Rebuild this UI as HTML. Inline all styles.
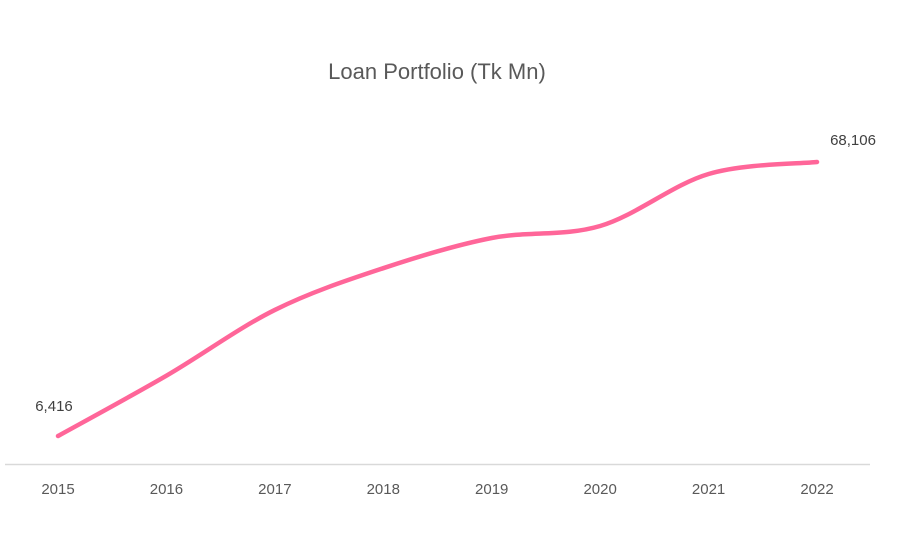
<!DOCTYPE html>
<html><head><meta charset="utf-8"><style>
html,body{margin:0;padding:0;background:#fff;}
svg{display:block;font-family:"Liberation Sans","DejaVu Sans",sans-serif;}
</style></head><body>
<svg id="chart" width="913" height="539">
  <text x="437" y="79" text-anchor="middle" font-size="22" fill="#595959">Loan Portfolio (Tk Mn)</text>
  <line x1="5" y1="464.5" x2="870" y2="464.5" stroke="#d9d9d9" stroke-width="1.5"/>
  <g id="xlabels"></g>
  <path id="line" fill="none" stroke="#ff6699" stroke-width="4.5" stroke-linecap="round"/>
  <g id="dlabels"></g>
</svg>
<script>
const categories = ["2015","2016","2017","2018","2019","2020","2021","2022"];
const values = [6416, 20000, 34800, 44200, 51000, 53700, 65400, 68106];
const printedLabels = ["6,416","","","","","","","68,106"];

const x0 = 58, step = 108.43;
function xPos(i){ return x0 + i*step; }
const yZero = 464.5, yScale = 274/(68106-6416);
function yPos(v){ return yZero - v*yScale; }

const NS = "http://www.w3.org/2000/svg";
const xl = document.getElementById("xlabels");
categories.forEach((c,i)=>{
  const t = document.createElementNS(NS,"text");
  t.setAttribute("x", xPos(i)); t.setAttribute("y", 494);
  t.setAttribute("text-anchor","middle"); t.setAttribute("font-size","15"); t.setAttribute("fill","#595959");
  
  
  t.textContent = c; xl.appendChild(t);
});

const pts = values.map((v,i)=>[xPos(i), yPos(v)]);
let d = "M"+pts[0][0]+","+pts[0][1];
for(let i=0;i<pts.length-1;i++){
  const p0 = pts[Math.max(0,i-1)], p1 = pts[i], p2 = pts[i+1], p3 = pts[Math.min(pts.length-1,i+2)];
  const c1 = [p1[0]+(p2[0]-p0[0])/6, p1[1]+(p2[1]-p0[1])/6];
  const c2 = [p2[0]-(p3[0]-p1[0])/6, p2[1]-(p3[1]-p1[1])/6];
  d += " C"+c1[0]+","+c1[1]+" "+c2[0]+","+c2[1]+" "+p2[0]+","+p2[1];
}
document.getElementById("line").setAttribute("d", d);

const dl = document.getElementById("dlabels");
printedLabels.forEach((s,i)=>{
  if(!s) return;
  const t = document.createElementNS(NS,"text");
  const last = i===printedLabels.length-1;
  t.setAttribute("x", last ? xPos(i)+36 : xPos(i)-4);
  t.setAttribute("y", yPos(values[i]) - (last ? 17 : 25));
  t.setAttribute("text-anchor","middle"); t.setAttribute("font-size","15"); t.setAttribute("fill","#404040");
  
  
  t.textContent = s; dl.appendChild(t);
});
</script>
</body></html>
